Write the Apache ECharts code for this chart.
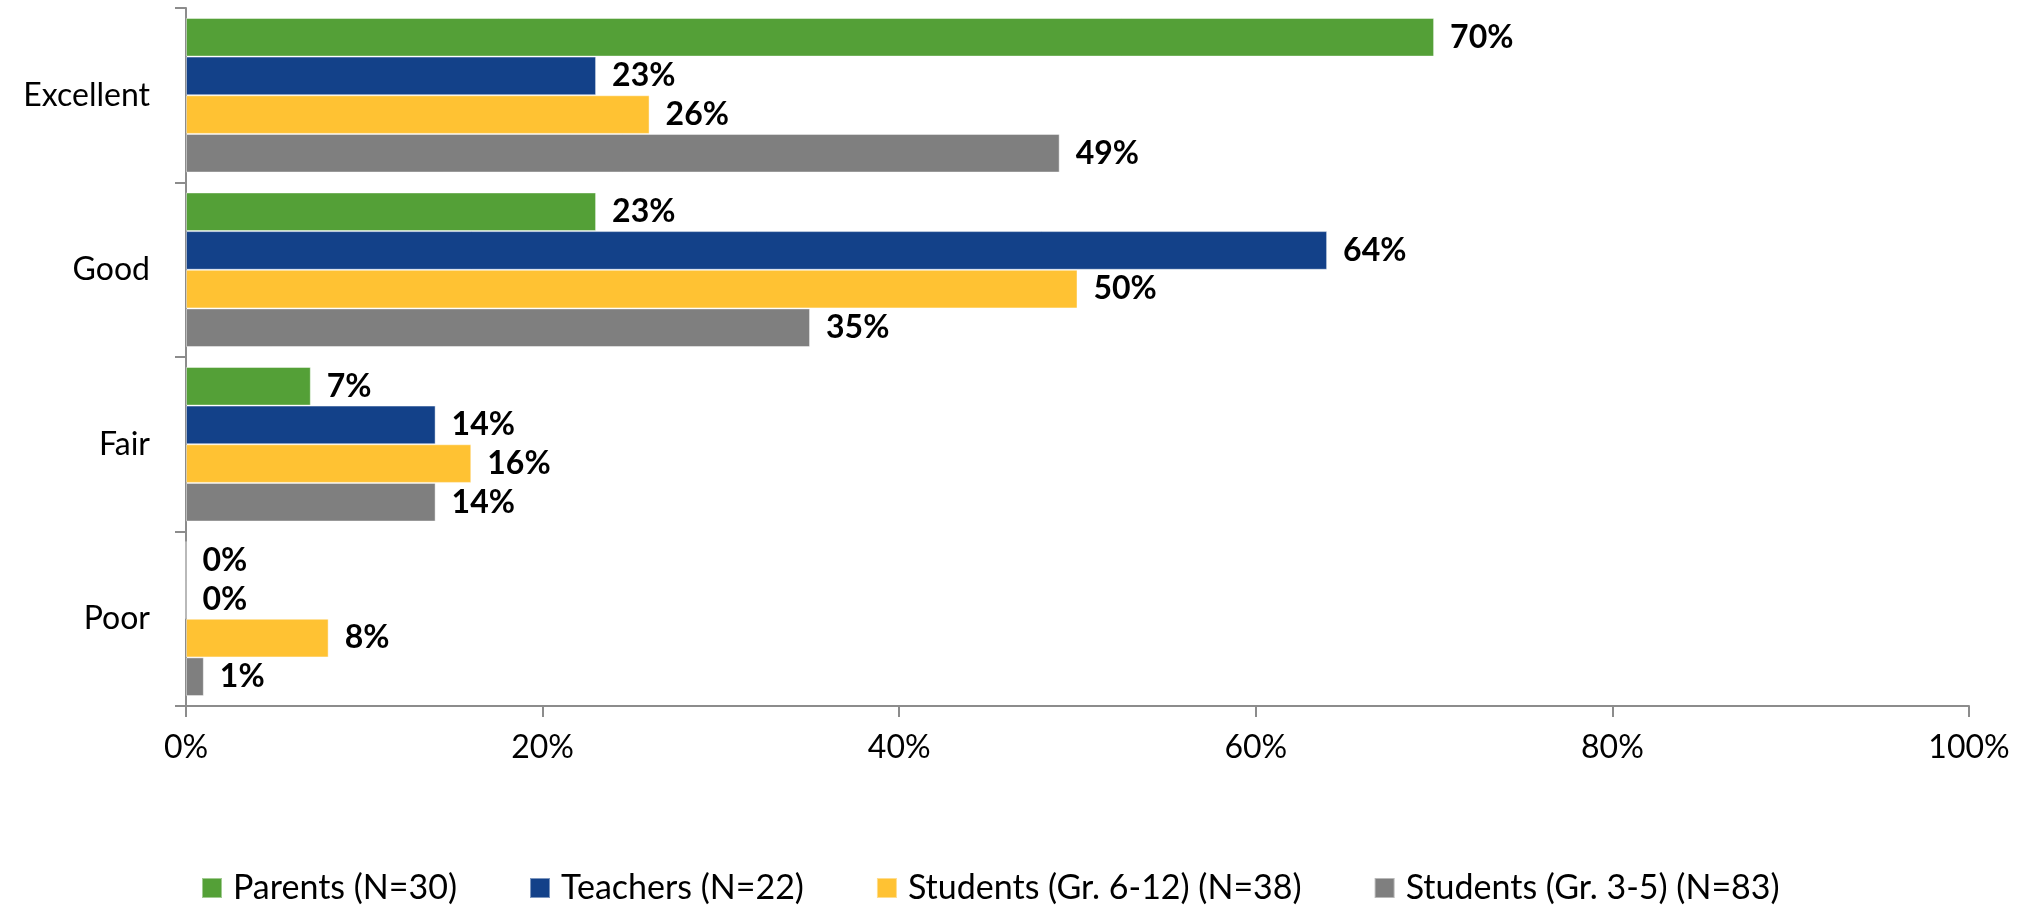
<!DOCTYPE html>
<html>
<head>
<meta charset="utf-8">
<script src="https://cdn.jsdelivr.net/npm/echarts@6/dist/echarts.min.js"></script>
<style>
html,body{margin:0;padding:0;background:#fff;}
#chart{width:2031px;height:911px;}
</style>
</head>
<body>
<div id="chart"></div>
<script>
const categories = ['Excellent', 'Good', 'Fair', 'Poor'];
const seriesNames = ['Parents (N=30)', 'Teachers (N=22)', 'Students (Gr. 6-12) (N=38)', 'Students (Gr. 3-5) (N=83)'];
const parents = [70, 23, 7, 0];
const teachers = [23, 64, 14, 0];
const students612 = [26, 50, 16, 8];
const students35 = [49, 35, 14, 1];
const colors = ['#54A037', '#134189', '#FFC233', '#7F7F7F'];
const xTicks = [0, 20, 40, 60, 80, 100];

const FONT = 'Lato';
const allData = [parents, teachers, students612, students35];

const chart = echarts.init(document.getElementById('chart'));
chart.setOption({
  animation: false,
  textStyle: { fontFamily: FONT },
  grid: { left: 186, right: 62, top: 8, bottom: 205, containLabel: false },
  legend: {
    top: 871,
    left: 201,
    padding: 0,
    itemWidth: 20,
    itemHeight: 20,
    itemGap: 72,
    icon: 'rect',
    textStyle: { fontSize: 34, color: '#000', fontFamily: FONT, padding: [0, 0, 0, 6] },
    data: seriesNames
  },
  xAxis: {
    type: 'value',
    min: xTicks[0],
    max: xTicks[xTicks.length - 1],
    interval: 20,
    axisLine: { show: true, lineStyle: { color: '#8c8c8c', width: 2 } },
    axisTick: { show: true, length: 11, lineStyle: { color: '#8c8c8c', width: 2 } },
    splitLine: { show: false },
    axisLabel: { fontSize: 32, color: '#000', margin: 26, formatter: '{value}%' }
  },
  yAxis: {
    type: 'category',
    inverse: true,
    data: categories,
    axisLine: { show: true, lineStyle: { color: '#8c8c8c', width: 2 } },
    axisTick: { show: true, length: 11, lineStyle: { color: '#8c8c8c', width: 2 } },
    axisLabel: { fontSize: 32, color: '#000', margin: 36 }
  },
  series: seriesNames.map((name, i) => ({
    name: name,
    type: 'bar',
    data: allData[i],
    barGap: '0%',
    barCategoryGap: '11.4%',
    itemStyle: { color: colors[i], borderColor: 'rgba(255,255,255,0.45)', borderWidth: 1 },
    label: {
      show: true,
      position: 'right',
      distance: 16,
      formatter: '{c}%',
      fontSize: 32,
      fontWeight: 'bold',
      color: '#000',
      fontFamily: FONT
    }
  }))
});
</script>
</body>
</html>
